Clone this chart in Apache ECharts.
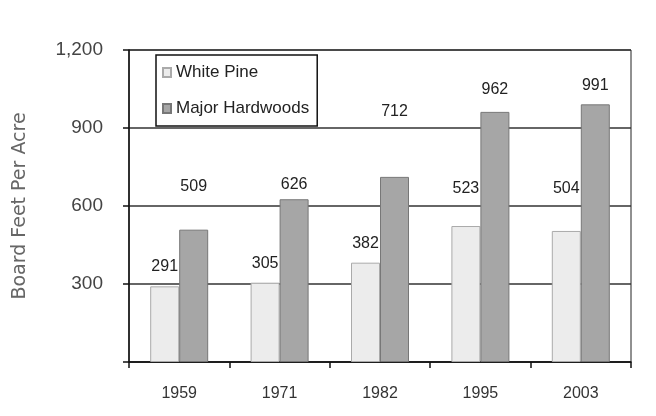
<!DOCTYPE html>
<html lang="en">
<head>
  <meta charset="UTF-8">
  <title>Board Feet Per Acre</title>
  <style>
    body { margin: 0; background: #fff; }
    #main { width: 656px; height: 416px; }
  </style>
</head>
<body>
<div id="main"></div>
<script src="https://cdn.jsdelivr.net/npm/echarts@6/dist/echarts.min.js"></script>
<script>
  var years = ['1959', '1971', '1982', '1995', '2003'];
  var whitePine = [291, 305, 382, 523, 504];
  var hardwoods = [509, 626, 712, 962, 991];

  // how far each value label sits above its bar (px), as placed in the original
  var pineLift = [12, 11, 11, 29, 34];
  var hardLift = [35, 7, 57, 14, 11];

  var font = 'Liberation Sans';

  function withLabels(values, lifts) {
    return values.map(function (v, i) {
      return { value: v, label: { distance: lifts[i] } };
    });
  }

  var chart = echarts.init(document.getElementById('main'));

  var option = {
    backgroundColor: '#fff',
    animation: false,
    textStyle: { fontFamily: font },
    grid: {
      left: 129, right: 25, top: 50, bottom: 54,
      show: true,
      borderColor: '#222',
      borderWidth: 1
    },
    legend: {
      orient: 'vertical',
      left: 156,
      top: 55,
      padding: [9, 8, 9, 6],
      itemGap: 19,
      itemWidth: 8,
      itemHeight: 9,
      icon: 'rect',
      backgroundColor: '#fff',
      borderColor: '#111',
      borderWidth: 1.5,
      borderRadius: 0,
      textStyle: { fontSize: 17, color: '#222', fontFamily: font }
    },
    xAxis: {
      type: 'category',
      data: years,
      axisLine: { lineStyle: { color: '#111', width: 1.5 } },
      axisTick: { show: true, length: 6, lineStyle: { color: '#111', width: 1.5 } },
      axisLabel: { fontSize: 16, color: '#333', margin: 24 }
    },
    yAxis: {
      type: 'value',
      min: 0,
      max: 1200,
      interval: 300,
      name: 'Board Feet Per Acre',
      nameLocation: 'middle',
      nameRotate: 90,
      nameGap: 99,
      nameTextStyle: { fontSize: 19, color: '#666', fontFamily: 'DejaVu Sans' },
      axisLine: { show: true, lineStyle: { color: '#111', width: 1.5 } },
      axisTick: { show: true, length: 6, lineStyle: { color: '#111', width: 1.5 } },
      axisLabel: {
        fontSize: 19,
        color: '#444',
        margin: 26,
        formatter: function (v) {
          return v === 0 ? '' : v.toLocaleString('en-US');
        }
      },
      splitLine: { show: true, lineStyle: { color: '#333', width: 1.6 } }
    },
    series: [
      {
        name: 'White Pine',
        type: 'bar',
        barWidth: 29,
        barGap: '0%',
        data: withLabels(whitePine, pineLift),
        itemStyle: { color: '#ececec', borderColor: '#aaa', borderWidth: 1 },
        label: { show: true, position: 'top', fontSize: 16, color: '#222' }
      },
      {
        name: 'Major Hardwoods',
        type: 'bar',
        barWidth: 29,
        barGap: '0%',
        data: withLabels(hardwoods, hardLift),
        itemStyle: { color: '#a6a6a6', borderColor: '#777', borderWidth: 1 },
        label: { show: true, position: 'top', fontSize: 16, color: '#222' }
      }
    ]
  };

  chart.setOption(option);
</script>
</body>
</html>
